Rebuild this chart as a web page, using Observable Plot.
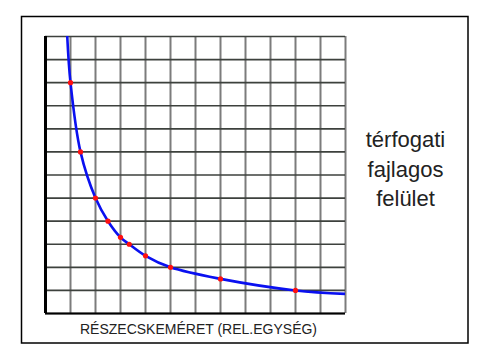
<!DOCTYPE html>
<html>
<head>
<meta charset="utf-8">
<script src="https://cdn.jsdelivr.net/npm/d3@7"></script>
<script src="https://cdn.jsdelivr.net/npm/@observablehq/plot@0.6"></script>
<style>
  html, body { margin: 0; padding: 0; background: #fff; }
  #chart { width: 487px; height: 364px; }
  svg { font-family: "Liberation Sans", Arial, sans-serif; }
</style>
</head>
<body>
<div id="chart"></div>
<script>
// measured points (relative particle size vs. volumetric specific surface)
const pointX = [1, 1.4, 2, 2.5, 3, 3.35, 4, 5, 7, 10];
const pointY = [10, 7, 5, 4, 3.3, 3, 2.5, 2, 1.5, 1];
// curve drawn through the points, with its read start and end
const curveX = [0.87, 1, 1.4, 2, 2.5, 3, 3.35, 4, 5, 7, 10, 12];
const curveY = [12, 10, 7, 5, 4, 3.3, 3, 2.5, 2, 1.5, 1, 0.85];
const gridValues = [0, 1, 2, 3, 4, 5, 6, 7, 8, 9, 10, 11, 12];
const xLabel = "RÉSZECSKEMÉRET (REL.EGYSÉG)";
const sideLabel = "térfogati\nfajlagos\nfelület";

const points = pointX.map((x, i) => ({x, y: pointY[i]}));
const curve = curveX.map((x, i) => ({x, y: curveY[i]}));

const chart = Plot.plot({
  width: 487,
  height: 364,
  marginLeft: 45,
  marginRight: 142,
  marginTop: 36,
  marginBottom: 51,
  x: {domain: [0, 12], axis: null},
  y: {domain: [0, 12], axis: null},
  marks: [
    Plot.gridX(gridValues, {stroke: "#7c7c7c", strokeOpacity: 1, strokeWidth: 2}),
    Plot.gridY(gridValues, {stroke: "#3d413d", strokeOpacity: 1, strokeWidth: 1.6}),
    Plot.ruleX([0], {stroke: "#000", strokeWidth: 3}),
    Plot.ruleY([0], {stroke: "#000", strokeWidth: 2}),
    Plot.line(curve, {x: "x", y: "y", curve: "catmull-rom", stroke: "#0a10f0", strokeWidth: 2.6, clip: true}),
    Plot.dot(points, {x: "x", y: "y", r: 2.6, fill: "#ff1010", stroke: "none"}),
    Plot.text([xLabel], {frameAnchor: "bottom", dx: 3, dy: 16, lineAnchor: "middle", fontSize: 14, fill: "#222"}),
    Plot.text([sideLabel], {frameAnchor: "right", dx: 60, dy: -8, textAnchor: "middle", lineAnchor: "middle", fontSize: 22, lineHeight: 1.36, fill: "#222"})
  ]
});

d3.select(chart).append("rect")
  .attr("x", 21.5).attr("y", 16.5)
  .attr("width", 446.5).attr("height", 326.5)
  .attr("fill", "none").attr("stroke", "#000").attr("stroke-width", 1.5);

document.getElementById("chart").appendChild(chart);
</script>
</body>
</html>
